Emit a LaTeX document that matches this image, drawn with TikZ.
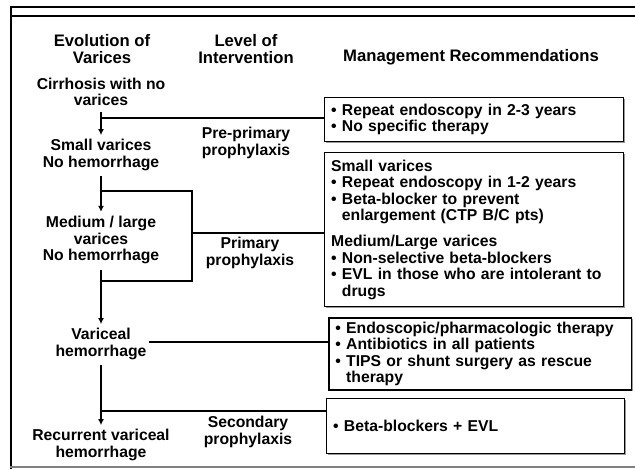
\documentclass[tikz,border=0pt]{standalone}
\usepackage{fontspec}
\setmainfont{Liberation Sans}
\usetikzlibrary{arrows.meta,positioning,shadows}

\newcommand{\recitem}{\textbullet\ }
\newcommand{\reccont}{\phantom{\textbullet\ }}

\tikzset{
  header/.style={align=center, inner sep=0.75pt, font=\bfseries\fontsize{12.5}{13}\selectfont},
  stage/.style={align=center, inner sep=2pt, font=\bfseries\fontsize{11.8}{12.4}\selectfont},
  level/.style={align=center, inner sep=0.75pt, font=\bfseries\fontsize{11.8}{12.4}\selectfont},
  recbox/.style={draw, line width=0.8pt, fill=white, anchor=north west, align=left,
    inner xsep=5pt, inner ysep=2pt, font=\bfseries\fontsize{11.8}{12.4}\selectfont,
    drop shadow={shadow xshift=1.2pt, shadow yshift=-1.2pt, fill=gray!80, opacity=1}},
  flow/.style={line width=2pt, -{Latex[length=4.5pt,width=4.5pt]}, shorten <=2pt, shorten >=1pt},
  link/.style={line width=2pt},
  bracket/.style={line width=1.6pt}
}

\begin{document}
\begin{tikzpicture}[x=0.75pt,y=0.75pt,yscale=-1,xscale=1]
  \useasboundingbox (0,0) rectangle (635,469);

  % frame of the slide
  \draw [line width=2pt] (10,7) -- (635,7) ;
  \draw [line width=0.8pt] (10,16) -- (635,16) ;
  \draw [line width=2.2pt] (11,6) -- (11,469) ;
  \draw [gray, line width=1pt] (10,467) -- (635,467) ;

  % column headers
  \node [header] (evo) at (102,49) {Evolution of\\Varices};
  \node [header] (lvl) at (246,49) {Level of\\Intervention};
  \node [header] (mgmt) at (471,57) {Management Recommendations};

  % evolution of varices
  \node [stage] (cirr) at (101,92) {Cirrhosis with no\\varices};
  \node [stage] (small) at (101,155) {Small varices\\No hemorrhage};
  \node [stage] (medium) at (101,240) {Medium / large\\varices\\No hemorrhage};
  \node [stage] (bleed) at (101,344) {Variceal\\hemorrhage};
  \node [stage] (recur) at (101,445) {Recurrent variceal\\hemorrhage};

  % level of intervention
  \node [level] (pre) at (246,143) {Pre-primary\\prophylaxis};
  \node [level] (prim) at (250,253) {Primary\\prophylaxis};
  \node [level] (sec) at (248,432) {Secondary\\prophylaxis};

  % management recommendations
  \node [recbox, text width=214pt, minimum height=33pt] (recA) at (324,97)
    {\recitem Repeat endoscopy in 2-3 years\\
     \recitem No specific therapy};
  \node [recbox, text width=214pt, minimum height=115.5pt] (recB) at (324,152)
    {Small varices\\
     \recitem Repeat endoscopy in 1-2 years\\
     \recitem Beta-blocker to prevent\\
     \reccont enlargement (CTP B/C pts)\\[7pt]
     Medium/Large varices\\
     \recitem Non-selective beta-blockers\\
     \recitem EVL in those who are intolerant to\\
     \reccont drugs};
  \node [recbox, line width=1.2pt, text width=217pt, minimum height=54pt] (recC) at (328,317)
    {\recitem Endoscopic/pharmacologic therapy\\
     \recitem Antibiotics in all patients\\
     \recitem TIPS or shunt surgery as rescue\\
     \reccont therapy};
  \node [recbox, text width=213.5pt, minimum height=41pt] (recD) at (326,398)
    {\recitem Beta-blockers + EVL};

  % progression arrows
  \draw [flow] (cirr) -- (small) ;
  \draw [flow] (small) -- (medium) ;
  \draw [flow] (medium) -- (bleed) ;
  \draw [flow] (bleed) -- (recur) ;

  % links to the recommendations
  \coordinate (forkA) at (101,118);
  \coordinate (brTop) at (192,191);
  \coordinate (brBot) at (192,281);
  \coordinate (forkD) at (101,411);
  \draw [link] (forkA) -- (forkA -| recA.west) ;
  \draw [bracket] (brTop -| medium) -- (brTop) -- (brBot) -- (brBot -| medium) ;
  \draw [link] (brTop |- 0,233) -- (recB.west |- 0,233) ;
  \draw [link] (bleed.east |- 0,342) -- (recC.west |- 0,342) ;
  \draw [link] (forkD) -- (forkD -| recD.west) ;
\end{tikzpicture}
\end{document}
